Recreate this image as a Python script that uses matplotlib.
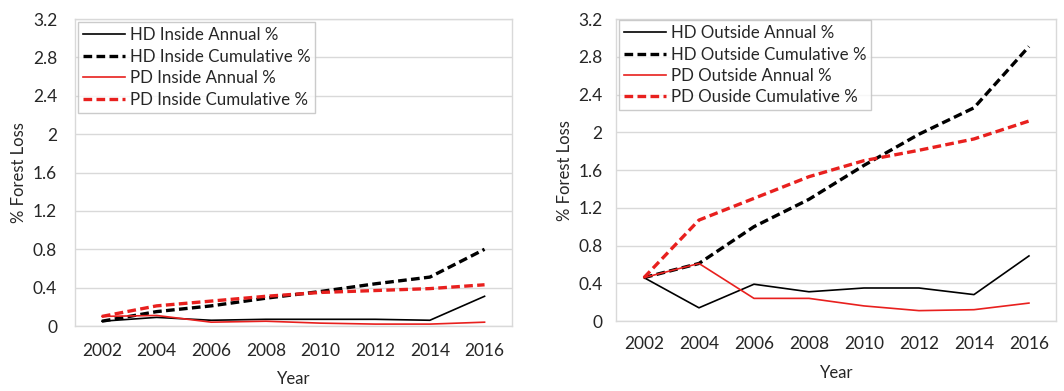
import matplotlib
matplotlib.use("Agg")
import matplotlib.pyplot as plt
import numpy as np

plt.rcParams['font.family'] = ['Lato', 'DejaVu Sans']

years = ["2002", "2004", "2006", "2008", "2010", "2012", "2014", "2016"]

hd_inside_annual = [0.05, 0.09, 0.06, 0.07, 0.07, 0.07, 0.06, 0.31]
hd_inside_cumulative = [0.05, 0.15, 0.21, 0.29, 0.36, 0.44, 0.51, 0.80]
pd_inside_annual = [0.10, 0.11, 0.04, 0.05, 0.03, 0.02, 0.02, 0.04]
pd_inside_cumulative = [0.10, 0.21, 0.26, 0.31, 0.35, 0.37, 0.39, 0.43]

hd_outside_annual = [0.46, 0.14, 0.39, 0.31, 0.35, 0.35, 0.28, 0.69]
hd_outside_cumulative = [0.46, 0.61, 1.00, 1.29, 1.65, 1.98, 2.26, 2.91]
pd_outside_annual = [0.46, 0.61, 0.24, 0.24, 0.16, 0.11, 0.12, 0.19]
pd_outside_cumulative = [0.46, 1.07, 1.30, 1.53, 1.70, 1.81, 1.93, 2.12]

inside_labels = ["HD Inside Annual %", "HD Inside Cumulative %",
                 "PD Inside Annual %", "PD Inside Cumulative %"]
outside_labels = ["HD Outside Annual %", "HD Outside Cumulative %",
                  "PD Outside Annual %", "PD Ouside Cumulative %"]

yticks = [0, 0.4, 0.8, 1.2, 1.6, 2.0, 2.4, 2.8, 3.2]
ytick_labels = ["0", "0.4", "0.8", "1.2", "1.6", "2", "2.4", "2.8", "3.2"]

fig = plt.figure(figsize=(10.64, 3.91), dpi=100)
ax1 = fig.add_axes([0.0701, 0.1662, 0.411, 0.785])
ax2 = fig.add_axes([0.5794, 0.179, 0.4135, 0.772])

grid_col = "#d9d9d9"
text_col = "#262626"


def draw(ax, series, labels, ypad, xpad, ylab_x, xlab_y, leg_anchor):
    x = np.arange(len(years))
    styles = [("black", "-", 1.2), ("black", (0, (2.6, 1.3)), 2.4),
              ("#e8201e", "-", 1.2), ("#e8201e", (0, (2.6, 1.3)), 2.4)]
    for vals, lab, (c, ls, lw) in zip(series, labels, styles):
        ax.plot(x, vals, color=c, linestyle=ls, linewidth=lw, label=lab)
    ax.set_xlim(-0.5, len(years) - 0.5)
    ax.set_ylim(0, 3.2)
    ax.set_xticks(x)
    ax.set_xticklabels(years)
    ax.set_yticks(yticks)
    ax.set_yticklabels(ytick_labels)
    ax.tick_params(length=0, labelsize=12.5, colors=text_col)
    ax.tick_params(axis='y', pad=ypad)
    ax.tick_params(axis='x', pad=xpad)
    ax.grid(axis='y', color=grid_col, linewidth=1.0)
    ax.set_axisbelow(True)
    for s in ax.spines.values():
        s.set_color(grid_col)
        s.set_linewidth(1.0)
    ax.set_ylabel("% Forest Loss", fontsize=12, color=text_col)
    ax.set_xlabel("Year", fontsize=12, color=text_col)
    ax.yaxis.set_label_coords(ylab_x, 0.5)
    ax.xaxis.set_label_coords(0.5, xlab_y)
    leg = ax.legend(loc="upper left", bbox_to_anchor=leg_anchor, fontsize=12.2,
                    frameon=True, fancybox=False, handlelength=2.5,
                    handletextpad=0.25, borderpad=0.3, labelspacing=0.32,
                    borderaxespad=0.0)
    leg.get_frame().set_edgecolor("#bfbfbf")
    leg.get_frame().set_linewidth(1.0)
    for t in leg.get_texts():
        t.set_color(text_col)


draw(ax1, [hd_inside_annual, hd_inside_cumulative, pd_inside_annual, pd_inside_cumulative],
     inside_labels, ypad=12.5, xpad=12, ylab_x=-0.109, xlab_y=-0.147,
     leg_anchor=(0.0078, 0.990))
draw(ax2, [hd_outside_annual, hd_outside_cumulative, pd_outside_annual, pd_outside_cumulative],
     outside_labels, ypad=10, xpad=10.5, ylab_x=-0.099, xlab_y=-0.146,
     leg_anchor=(0.0057, 0.997))

fig.savefig("out.png", dpi=100)
